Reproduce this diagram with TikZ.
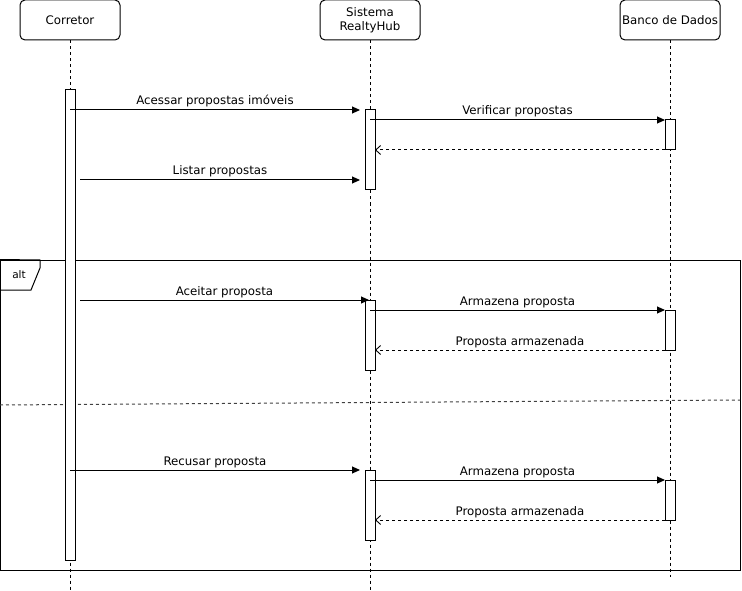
\documentclass[tikz,border=0pt]{standalone}
\usepackage{fontspec}
\setmainfont{DejaVu Sans}
\usetikzlibrary{arrows.meta}
\begin{document}
\begin{tikzpicture}[x=1pt,y=-1pt,line width=1pt,
  actor/.style={draw,rounded corners=5pt,minimum width=100pt,minimum height=40pt,align=center,font=\fontsize{11.8}{14}\selectfont,inner sep=0pt},
  life/.style={line width=0.9pt,dash pattern=on 3pt off 3pt},
  actbox/.style={draw,fill=white,minimum width=10pt,inner sep=0pt},
  msg/.style={-{Triangle[length=8pt,width=7pt]}},
  ret/.style={dash pattern=on 3pt off 3pt,-{Straight Barb[length=5pt,width=9pt,line width=0.9pt]}},
  lbl/.style={font=\fontsize{11.8}{14}\selectfont,inner sep=0pt,anchor=base}]
\useasboundingbox (0,0) rectangle (742,591);
% actors
\node[actor] (c) at (70,20) {Corretor};
\node[actor] (s) at (370,20) {Sistema\\RealtyHub};
\node[actor] (b) at (670,20) {Banco de Dados};
% lifeline ends
\coordinate (cend) at (70,590);
\coordinate (send) at (370,590);
\coordinate (bend) at (670,577);
\draw[life] (c.south) -- (cend);
\draw[life] (s.south) -- (send);
\draw[life] (b.south) -- (bend);
% alt frame
\node[draw,minimum width=740pt,minimum height=310pt,inner sep=0pt] (frame) at (370,415) {};
\draw (frame.north west) -- (40,260) -- (40,268) -- (31,290) -- (0,290);
\node[font=\fontsize{10.5}{12}\selectfont,inner sep=0pt] (alt) at (19,275) {alt};
\coordinate (sepL) at (0,405);
\coordinate (sepR) at (740,400);
\draw[dash pattern=on 3pt off 3pt,black!75] (sepL) -- (sepR);
% activations
\node[actbox,minimum height=470pt] (ca) at (70,325) {};
\node[actbox,minimum height=80pt] (sa1) at (370,150) {};
\node[actbox,minimum height=30pt] (ba1) at (670,135) {};
\node[actbox,minimum height=70pt] (sa2) at (370,335) {};
\node[actbox,minimum height=40pt] (ba2) at (670,330) {};
\node[actbox,minimum height=70pt] (sa3) at (370,505) {};
\node[actbox,minimum height=40pt] (ba3) at (670,500) {};
% message endpoints
\coordinate (m1a) at (70,110); \coordinate (m1b) at (360,110);
\coordinate (m2a) at (370,120); \coordinate (m2b) at (665,120);
\coordinate (m3a) at (665,150); \coordinate (m3b) at (375,150);
\coordinate (m4a) at (80,180); \coordinate (m4b) at (360,180);
\coordinate (m5a) at (80,300); \coordinate (m5b) at (369,300);
\coordinate (m6a) at (370,310); \coordinate (m6b) at (665,310);
\coordinate (m7a) at (665,350); \coordinate (m7b) at (375,350);
\coordinate (m8a) at (70,470); \coordinate (m8b) at (360,470);
\coordinate (m9a) at (370,480); \coordinate (m9b) at (665,480);
\coordinate (m10a) at (665,520); \coordinate (m10b) at (375,520);
\draw[msg] (m1a) -- node[lbl,yshift=5pt] (l1) {Acessar propostas imóveis} (m1b);
\draw[msg] (m2a) -- node[lbl,yshift=5pt] (l2) {Verificar propostas} (m2b);
\draw[ret] (m3a) -- (m3b);
\draw[msg] (m4a) -- node[lbl,yshift=5pt] (l4) {Listar propostas} (m4b);
\draw[msg] (m5a) -- node[lbl,yshift=5pt] (l5) {Aceitar proposta} (m5b);
\draw[msg] (m6a) -- node[lbl,yshift=5pt] (l6) {Armazena proposta} (m6b);
\draw[ret] (m7a) -- node[lbl,yshift=5pt] (l7) {Proposta armazenada} (m7b);
\draw[msg] (m8a) -- node[lbl,yshift=5pt] (l8) {Recusar proposta} (m8b);
\draw[msg] (m9a) -- node[lbl,yshift=5pt] (l9) {Armazena proposta} (m9b);
\draw[ret] (m10a) -- node[lbl,yshift=5pt] (l10) {Proposta armazenada} (m10b);
\end{tikzpicture}
\end{document}
